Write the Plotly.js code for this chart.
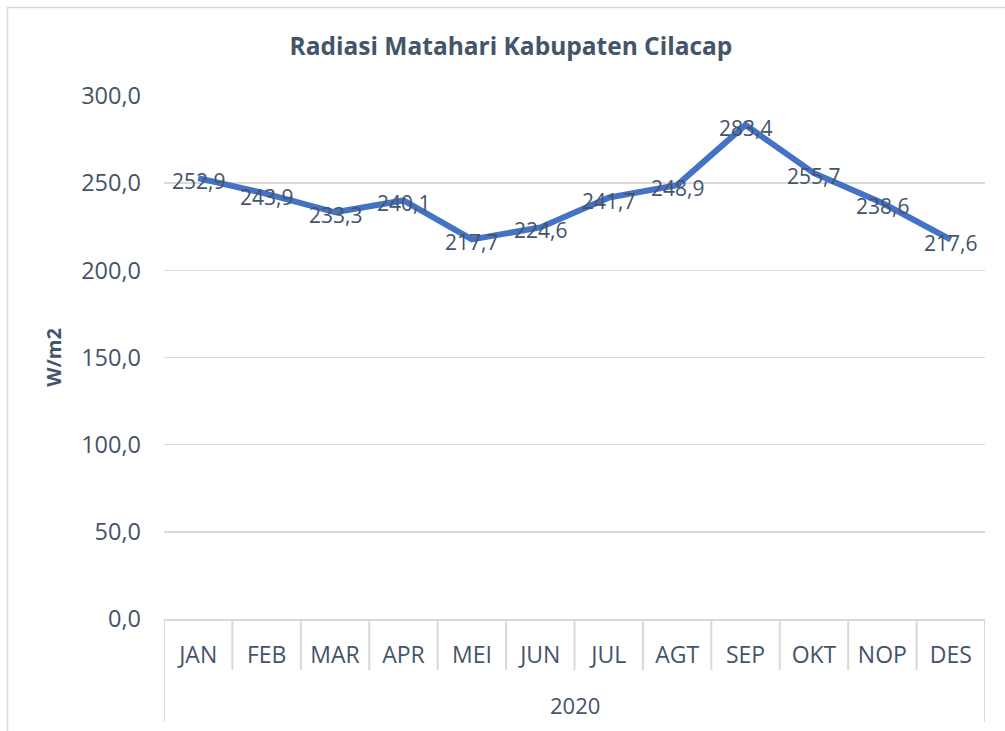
<!DOCTYPE html>
<html>
<head>
<meta charset="utf-8">
<script src="https://cdn.plot.ly/plotly-3.0.1.min.js"></script>
<style>html,body{margin:0;padding:0;background:#fff;}#chart{width:1005px;height:731px;}</style>
</head>
<body>
<div id="chart"></div>
<script>
var months = ["JAN","FEB","MAR","APR","MEI","JUN","JUL","AGT","SEP","OKT","NOP","DES"];
var radiation = [252.9, 243.9, 233.3, 240.1, 217.7, 224.6, 241.7, 248.9, 283.4, 255.7, 238.6, 217.6];
var groupLabel = "2020";
var yTicks = [0, 50, 100, 150, 200, 250, 300];

var W = 1005, H = 731;
var mL = 164, mR = 20, mT = 96, mB = 112;
var plotW = W - mL - mR, plotH = H - mT - mB;
var txt = '#44546A', grid = '#D9D9D9';
var font = '"Open Sans", "Noto Sans", sans-serif';

var shapes = [];
for (var i = 0; i <= months.length; i++) {
  var outer = (i === 0 || i === months.length);
  shapes.push({type:'line', xref:'x', yref:'paper', x0:i-0.5, x1:i-0.5, y0:0,
    y1: -(outer ? 103 : 51)/plotH, line:{color:grid, width:2}});
}
// outer frame
shapes.push({type:'rect', xref:'paper', yref:'paper',
  x0:(7.5-mL)/plotW, x1:(1030-mL)/plotW, y0:-(760-mT-plotH)/plotH, y1:1+(mT-7.5)/plotH,
  line:{color:grid, width:1.5}, fillcolor:'rgba(0,0,0,0)', layer:'below'});

var trace = {
  x: months, y: radiation, type:'scatter', mode:'lines',
  line:{color:'#4472C4', width:6},
  cliponaxis:false, hoverinfo:'skip'
};

var annotations = months.map(function (m, i) {
  return {x:m, y:radiation[i], xref:'x', yref:'y', text:radiation[i].toFixed(1).replace('.', ','),
    showarrow:false, xanchor:'center', yanchor:'middle', yshift:-3,
    font:{family:font, size:21, color:txt}};
});
annotations.push({text:groupLabel, xref:'paper', yref:'paper', x:0.5, y:-(705-mT-plotH)/plotH,
  xanchor:'center', yanchor:'middle', showarrow:false, font:{family:font, size:22, color:txt}});

var layout = {
  width:W, height:H, margin:{l:mL, r:mR, t:mT, b:mB},
  paper_bgcolor:'#fff', plot_bgcolor:'#fff',
  separators:',.',
  showlegend:false,
  title:{text:'<b>Radiasi Matahari Kabupaten Cilacap</b>', x:511/W, xanchor:'center', xref:'container',
    y:1-46/H, yanchor:'middle', yref:'container', font:{family:font, size:24.5, color:txt}},
  xaxis:{type:'category', range:[-0.5, months.length-0.5], showgrid:false, zeroline:false,
    showline:true, linecolor:grid, linewidth:1.5, ticks:'', ticklabelstandoff:15,
    tickfont:{family:font, size:23, color:txt}, fixedrange:true},
  yaxis:{range:[0,300], tickvals:yTicks, tickformat:'.1f', showgrid:true, gridcolor:grid, gridwidth:1.5,
    zeroline:false, showline:false, ticks:'', ticklabelstandoff:22,
    tickfont:{family:font, size:23.5, color:txt},
    title:{text:'<b>W/m2</b>', standoff:14, font:{family:font, size:20, color:txt}}, fixedrange:true},
  shapes:shapes,
  annotations:annotations
};

Plotly.newPlot('chart', [trace], layout, {displayModeBar:false, staticPlot:true});
</script>
</body>
</html>
